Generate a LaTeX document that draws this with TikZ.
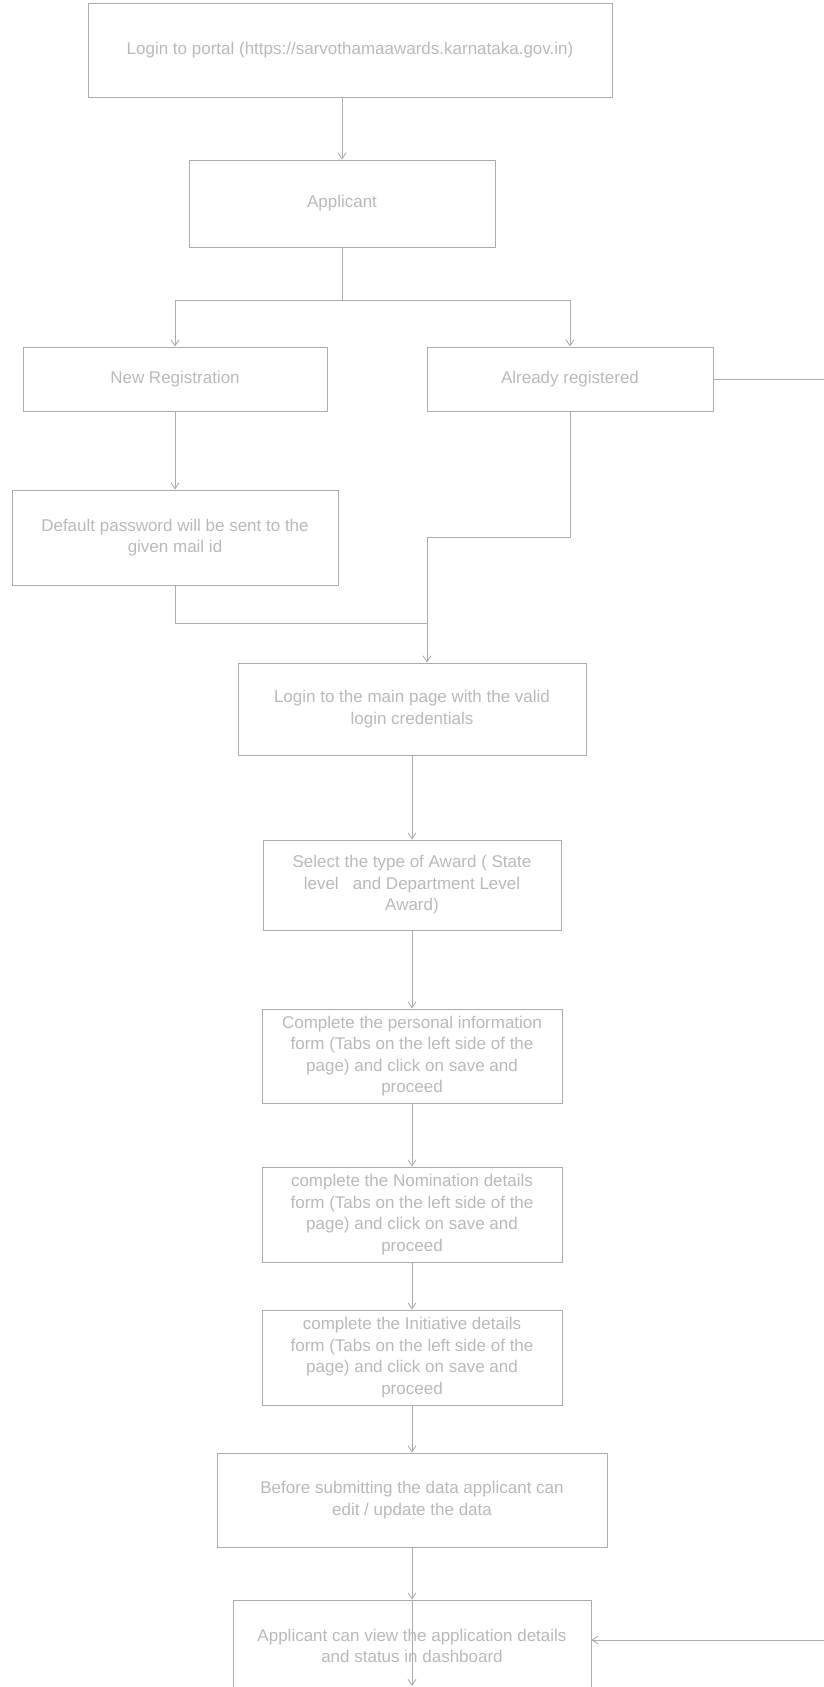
\documentclass[tikz,border=0pt]{standalone}
\usepackage{fontspec}
\setmainfont{Liberation Sans}
\usepackage{tikz}
\usetikzlibrary{arrows.meta}

\begin{document}
\begin{tikzpicture}[x=1pt,y=-1pt,
  box/.style={draw=gray!65,line width=0.9pt,text=gray!55,inner sep=0pt,align=center,
    font=\fontsize{17}{21.5}\selectfont},
  line/.style={draw=gray!65,line width=0.9pt},
  arr/.style={line,-{Straight Barb[length=6pt,width=8pt]}}]
\useasboundingbox (0,0) rectangle (824,1687);
\clip (0,0) rectangle (824,1687);

\node[box,minimum width=524,minimum height=94] (portal) at (350,50) {Login to portal (https://sarvothamaawards.karnataka.gov.in)};
\node[box,minimum width=306,minimum height=87] (app) at (342,203.5) {Applicant};
\node[box,minimum width=304,minimum height=64] (newreg) at (175,379) {New Registration};
\node[box,minimum width=286,minimum height=64] (already) at (570,379) {Already registered};
\node[box,minimum width=326,minimum height=95] (defpw) at (175,537.5) {Default password will be sent to the\\given mail id};
\node[box,minimum width=348,minimum height=92] (mainlogin) at (412,709) {Login to the main page with the valid\\login credentials};
\node[box,minimum width=298,minimum height=90] (awardtype) at (412,885) {Select the type of Award ( State\\level\ \ \ and Department Level\\Award)};
\node[box,minimum width=300,minimum height=94] (personal) at (412,1056) {Complete the personal information\\form (Tabs on the left side of the\\page) and click on save and\\proceed};
\node[box,minimum width=300,minimum height=95] (nomination) at (412,1214.5) {complete the Nomination details\\form (Tabs on the left side of the\\page) and click on save and\\proceed};
\node[box,minimum width=300,minimum height=95] (initiative) at (412,1357.5) {complete the Initiative details\\form (Tabs on the left side of the\\page) and click on save and\\proceed};
\node[box,minimum width=390,minimum height=94] (beforesub) at (412,1500) {Before submitting the data applicant can\\edit / update the data};
\node[box,minimum width=358,minimum height=92] (dashboard) at (412,1646) {Applicant can view the application details\\and status in dashboard};

\coordinate (split) at (342,300);
\coordinate (rightout) at (824,379);
\coordinate (bend) at (427,537);
\coordinate (merge) at (427,623);
\coordinate (rightin) at (824,1640);
\coordinate (bottomout) at (412,1686);

\draw[arr] (portal.south -| app.north) -- (app.north);
\draw[line] (app.south) -- (split);
\draw[arr] (split) -| (newreg.north);
\draw[arr] (split) -| (already.north);
\draw[line] (already.east) -- (rightout);
\draw[arr] (newreg) -- (defpw);
\draw[line] (defpw.south) |- (merge);
\draw[line] (already.south) |- (bend);
\draw[arr] (bend) -- (bend |- mainlogin.north);
\draw[arr] (mainlogin) -- (awardtype);
\draw[arr] (awardtype) -- (personal);
\draw[arr] (personal) -- (nomination);
\draw[arr] (nomination) -- (initiative);
\draw[arr] (initiative) -- (beforesub);
\draw[arr] (beforesub) -- (dashboard);
\draw[arr] (rightin) -- (rightin -| dashboard.east);
\draw[arr] (dashboard.north) -- (bottomout);

\end{tikzpicture}
\end{document}
